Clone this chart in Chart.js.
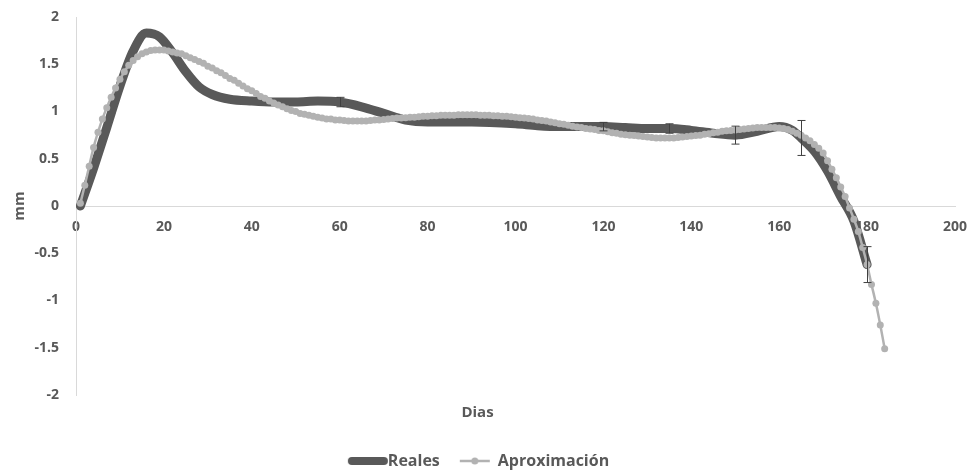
<!DOCTYPE html>
<html>
<head>
<meta charset="utf-8">
<script src="https://cdn.jsdelivr.net/npm/chart.js@4.4.1/dist/chart.umd.min.js"></script>
<style>
  html, body { margin: 0; padding: 0; background: #fff; }
</style>
</head>
<body>
<canvas id="chart" width="970" height="470"></canvas>
<script>
// Reales: medidos (linea gruesa)
var realesDays = [1, 4, 7, 10, 13, 16, 19, 22, 25, 28, 31, 35, 40, 45, 50, 55, 60, 65, 70, 75, 80, 90, 100, 105, 110, 115, 120, 125, 130, 135, 140, 145, 150, 155, 160, 163, 165, 168, 171, 174, 177, 180];
var realesValues = [0.0, 0.40, 0.83, 1.27, 1.64, 1.83, 1.79, 1.62, 1.42, 1.26, 1.18, 1.13, 1.11, 1.10, 1.10, 1.11, 1.10, 1.05, 0.98, 0.91, 0.89, 0.89, 0.87, 0.85, 0.84, 0.84, 0.84, 0.83, 0.82, 0.82, 0.80, 0.77, 0.75, 0.79, 0.84, 0.80, 0.72, 0.58, 0.37, 0.10, -0.16, -0.62];

// barras de error (dias y semiamplitud)
var errorDays = [60, 120, 135, 150, 165, 180];
var errorSizes = [0.05, 0.045, 0.05, 0.095, 0.185, 0.19];

// Aproximación: un valor por dia, del dia 1 al 184
var aproxValues = [
  0.03, 0.22, 0.42, 0.62, 0.78, 0.92, 1.04, 1.15, 1.25, 1.34,
  1.42, 1.49, 1.54, 1.58, 1.61, 1.63, 1.645, 1.65, 1.65, 1.65,
  1.64, 1.63, 1.62, 1.61, 1.59, 1.57, 1.55, 1.53, 1.51, 1.48,
  1.46, 1.43, 1.41, 1.38, 1.35, 1.33, 1.30, 1.27, 1.24, 1.22,
  1.19, 1.16, 1.14, 1.11, 1.09, 1.07, 1.05, 1.03, 1.01, 1.00,
  0.98, 0.97, 0.96, 0.95, 0.94, 0.93, 0.92, 0.92, 0.91, 0.91,
  0.905, 0.90, 0.90, 0.90, 0.90, 0.90, 0.905, 0.91, 0.91, 0.915,
  0.92, 0.925, 0.93, 0.93, 0.935, 0.94, 0.94, 0.945, 0.95, 0.95,
  0.955, 0.955, 0.96, 0.96, 0.96, 0.96, 0.965, 0.965, 0.965, 0.965,
  0.965, 0.96, 0.96, 0.96, 0.955, 0.955, 0.95, 0.95, 0.945, 0.94,
  0.935, 0.93, 0.925, 0.92, 0.91, 0.905, 0.90, 0.89, 0.88, 0.87,
  0.865, 0.855, 0.845, 0.835, 0.83, 0.82, 0.815, 0.81, 0.80, 0.795,
  0.785, 0.775, 0.77, 0.76, 0.755, 0.75, 0.745, 0.74, 0.735, 0.73,
  0.725, 0.72, 0.72, 0.72, 0.72, 0.72, 0.725, 0.73, 0.735, 0.74,
  0.745, 0.75, 0.76, 0.765, 0.775, 0.78, 0.79, 0.795, 0.80, 0.805,
  0.81, 0.815, 0.82, 0.825, 0.83, 0.83, 0.83, 0.83, 0.83, 0.825,
  0.82, 0.81, 0.79, 0.77, 0.75, 0.72, 0.69, 0.65, 0.61, 0.56,
  0.48, 0.39, 0.30, 0.20, 0.10, -0.02, -0.14, -0.27, -0.44, -0.62,
  -0.83, -1.03, -1.26, -1.51
];

var xTicks = [0, 20, 40, 60, 80, 100, 120, 140, 160, 180, 200];
var yTicks = [-2, -1.5, -1, -0.5, 0, 0.5, 1, 1.5, 2];

var darkGray = '#595959';
var lightGray = '#b2b2b2';
var textGray = '#595959';

var realesPoints = realesDays.map(function(d, i) { return {x: d, y: realesValues[i]}; });
var aproxPoints = aproxValues.map(function(v, i) { return {x: i + 1, y: v}; });

// iconos de la leyenda
function makeIcon(w, h, draw) {
  var c = document.createElement('canvas');
  c.width = w; c.height = h;
  draw(c.getContext('2d'));
  return c;
}
var iconReales = makeIcon(52, 10, function(ctx) {
  ctx.strokeStyle = darkGray; ctx.lineWidth = 8; ctx.lineCap = 'round';
  ctx.beginPath(); ctx.moveTo(15, 5); ctx.lineTo(47, 5); ctx.stroke();
});
var iconAprox = makeIcon(60, 10, function(ctx) {
  ctx.strokeStyle = lightGray; ctx.lineWidth = 2.5;
  ctx.beginPath(); ctx.moveTo(17, 5); ctx.lineTo(47, 5); ctx.stroke();
  ctx.fillStyle = lightGray;
  ctx.beginPath(); ctx.arc(32, 5, 3.5, 0, Math.PI * 2); ctx.fill();
});

var errorBars = {
  id: 'errorBars',
  afterDatasetsDraw: function(chart) {
    var ctx = chart.ctx, xs = chart.scales.x, ys = chart.scales.y;
    ctx.save();
    ctx.strokeStyle = '#404040';
    ctx.lineWidth = 1;
    errorDays.forEach(function(d, i) {
      var v = realesValues[realesDays.indexOf(d)];
      var px = Math.round(xs.getPixelForValue(d)) + 0.5;
      var top = ys.getPixelForValue(v + errorSizes[i]);
      var bot = ys.getPixelForValue(v - errorSizes[i]);
      ctx.beginPath();
      ctx.moveTo(px, top); ctx.lineTo(px, bot);
      ctx.moveTo(px - 4, top); ctx.lineTo(px + 4, top);
      ctx.moveTo(px - 4, bot); ctx.lineTo(px + 4, bot);
      ctx.stroke();
    });
    ctx.restore();
  }
};

var ctx = document.getElementById('chart').getContext('2d');
var chart = new Chart(ctx, {
  type: 'line',
  data: {
    datasets: [{
      label: 'Reales',
      data: realesPoints,
      borderColor: darkGray,
      backgroundColor: darkGray,
      borderWidth: 9,
      borderCapStyle: 'round',
      borderJoinStyle: 'round',
      cubicInterpolationMode: 'monotone',
      pointRadius: 0,
      order: 2
    }, {
      label: 'Aproximación',
      data: aproxPoints,
      borderColor: lightGray,
      backgroundColor: lightGray,
      borderWidth: 2.5,
      tension: 0.4,
      pointRadius: 3.5,
      pointBorderWidth: 0,
      pointBackgroundColor: lightGray,
      order: 1
    }]
  },
  options: {
    responsive: false,
    animation: false,
    layout: { padding: { top: 17, right: 15, left: 0, bottom: -9 } },
    scales: {
      x: {
        type: 'linear',
        min: 0, max: 200,
        position: { y: 0 },
        // las marcas no se dibujan, solo separan las etiquetas del eje
        grid: { display: false, drawTicks: true, tickLength: 13 },
        border: { display: true, color: '#d9d9d9', width: 1 },
        afterBuildTicks: function(scale) { scale.ticks = xTicks.map(function(v) { return {value: v}; }); },
        ticks: { color: textGray, font: { family: 'Open Sans', size: 14, weight: 'bold' }, padding: 0, maxRotation: 0 }
      },
      y: {
        min: -2, max: 2,
        grid: { display: false, drawTicks: true, tickLength: 17 },
        border: { display: true, color: '#d9d9d9', width: 1 },
        afterBuildTicks: function(scale) { scale.ticks = yTicks.map(function(v) { return {value: v}; }); },
        afterFit: function(scale) { scale.width = 76; },
        ticks: {
          color: textGray, font: { family: 'Open Sans', size: 14, weight: 'bold' }, padding: 0,
          callback: function(v) { return String(v); }
        },
        title: { display: true, text: 'mm', color: textGray, font: { family: 'Open Sans', size: 15, weight: 'bold' }, padding: { top: 11, bottom: 0 } }
      }
    },
    plugins: {
      title: {
        display: true,
        text: 'Dias',
        position: 'bottom',
        weight: 500,
        color: textGray,
        font: { family: 'Open Sans', size: 15, weight: 'bold' },
        padding: { top: 9, bottom: 15 }
      },
      legend: {
        position: 'bottom',
        labels: {
          color: textGray,
          font: { family: 'Open Sans', size: 16, weight: 'bold' },
          usePointStyle: true,
          pointStyleWidth: 34,
          padding: 16,
          sort: function(a, b) { return a.datasetIndex - b.datasetIndex; },
          generateLabels: function(chart) {
            var items = Chart.defaults.plugins.legend.labels.generateLabels(chart);
            items.forEach(function(it) {
              it.pointStyle = it.datasetIndex === 0 ? iconReales : iconAprox;
            });
            return items;
          }
        }
      },
      tooltip: { enabled: false }
    }
  },
  plugins: [errorBars]
});
</script>
</body>
</html>
